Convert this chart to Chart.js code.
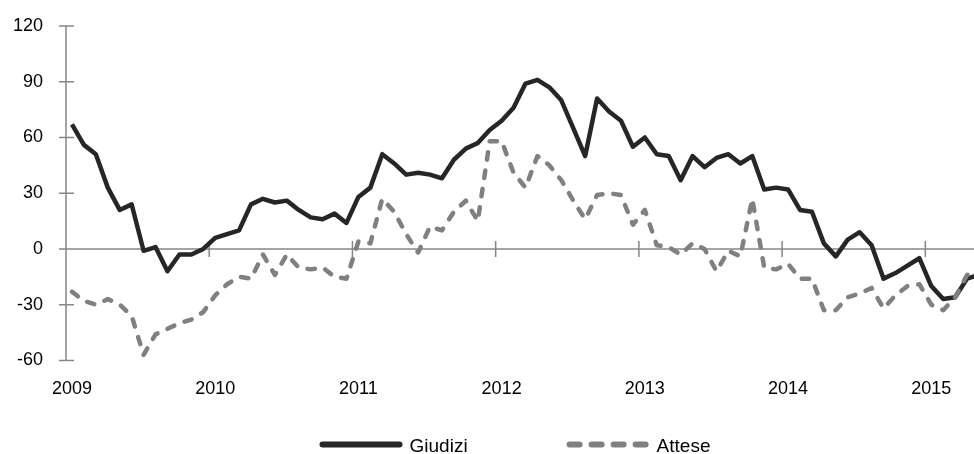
<!DOCTYPE html>
<html>
<head>
<meta charset="utf-8">
<script src="https://cdn.jsdelivr.net/npm/chart.js@4/dist/chart.umd.min.js"></script>
<style>
  html, body { margin: 0; padding: 0; background: #fff; overflow: hidden; }
  #wrap { position: relative; width: 986px; height: 454px; }
</style>
</head>
<body>
<div id="wrap"><canvas id="chart"></canvas></div>
<script>
// anni sull'asse x (gennaio di ogni anno)
const years = ["2009", "2010", "2011", "2012", "2013", "2014", "2015"];
const monthsInLastYear = 5;

// serie mensili, gen 2009 - mag 2015
const giudizi = [
  67, 56, 51, 33, 21, 24, -1, 1, -12, -3, -3, 0,
  6, 8, 10, 24, 27, 25, 26, 21, 17, 16, 19, 14,
  28, 33, 51, 46, 40, 41, 40, 38, 48, 54, 57, 64,
  69, 76, 89, 91, 87, 80, 65, 50, 81, 74, 69, 55,
  60, 51, 50, 37, 50, 44, 49, 51, 46, 50, 32, 33,
  32, 21, 20, 3, -4, 5, 9, 2, -16, -13, -9, -5,
  -20, -27, -26, -16, -14
];
const attese = [
  -23, -28, -30, -27, -30, -36, -57, -46, -43, -40, -38, -34,
  -25, -19, -15, -16, -3, -14, -3, -10, -11, -10, -15, -16,
  4, 3, 27, 20, 8, -2, 12, 10, 20, 26, 15, 58,
  58, 41, 33, 50, 45, 37, 26, 16, 29, 30, 29, 13,
  21, 2, 1, -3, 3, 0, -12, -1, -4, 27, -10, -11,
  -8, -16, -16, -33, -33, -26, -24, -21, -32, -25, -20, -19,
  -30, -33, -26, -14, -13
];
const seriesNames = ["Giudizi", "Attese"];

const yMin = -60, yMax = 120, yStep = 30;

const colorGiudizi = "#262626";
const colorAttese = "#808080";
const axisColor = "#868686";
const fontFamily = "'Liberation Sans', Arial, sans-serif";

// etichette delle categorie: l'anno solo a gennaio
const labels = [];
years.forEach((yr, i) => {
  const n = i === years.length - 1 ? monthsInLastYear : 12;
  for (let m = 0; m < n; m++) labels.push(m === 0 ? yr : "");
});

// niente margini extra calcolati dalle etichette
function noPadding(scale) {
  scale.paddingLeft = 0;
  scale.paddingRight = 0;
  scale.paddingTop = 0;
  scale.paddingBottom = 0;
}

// assi "incrociati" come nell'originale + legenda
const crossAxes = {
  id: "crossAxes",
  beforeDatasetsDraw(chart) {
    const { ctx, chartArea, scales: { x, y } } = chart;
    const y0 = y.getPixelForValue(0);
    ctx.save();
    ctx.strokeStyle = axisColor;
    ctx.lineWidth = 1.5;
    ctx.beginPath();
    ctx.moveTo(chartArea.left, y.getPixelForValue(yMax));
    ctx.lineTo(chartArea.left, y.getPixelForValue(yMin));
    y.ticks.forEach(t => {
      const py = y.getPixelForValue(t.value);
      ctx.moveTo(chartArea.left - 7, py);
      ctx.lineTo(chartArea.left + 8, py);
    });
    ctx.moveTo(chartArea.left, y0);
    ctx.lineTo(chartArea.right, y0);
    labels.forEach((l, i) => {
      if (l && i > 0) {
        const px = (x.getPixelForValue(i - 1) + x.getPixelForValue(i)) / 2;
        ctx.moveTo(px, y0 - 8);
        ctx.lineTo(px, y0 + 8);
      }
    });
    ctx.stroke();
    ctx.restore();
  },
  afterDraw(chart) {
    const ctx = chart.ctx;
    const items = [
      { text: seriesNames[0], color: colorGiudizi, dash: [] },
      { text: seriesNames[1], color: colorAttese, dash: [10, 12] }
    ];
    const lineLen = 83, textGap = 7, itemGap = 99, ly = 444.5;
    ctx.save();
    ctx.font = "19px " + fontFamily;
    const widths = items.map(it => ctx.measureText(it.text).width);
    const total = items.length * (lineLen + textGap) + widths.reduce((a, b) => a + b, 0) + itemGap * (items.length - 1);
    let cx = 515 - total / 2;
    items.forEach((it, i) => {
      ctx.strokeStyle = it.color;
      ctx.lineWidth = 6;
      ctx.lineCap = "round";
      ctx.setLineDash(it.dash);
      ctx.beginPath();
      ctx.moveTo(cx + 3, ly);
      ctx.lineTo(cx + lineLen - 3, ly);
      ctx.stroke();
      ctx.setLineDash([]);
      ctx.fillStyle = "#000";
      ctx.textBaseline = "middle";
      ctx.fillText(it.text, cx + lineLen + textGap, ly + 2);
      cx += lineLen + textGap + widths[i] + itemGap;
    });
    ctx.restore();
  }
};

const ctx = document.getElementById("chart").getContext("2d");
new Chart(ctx, {
  type: "line",
  data: {
    labels: labels,
    datasets: [
      {
        label: seriesNames[0],
        data: giudizi,
        borderColor: colorGiudizi,
        borderWidth: 4.5,
        borderJoinStyle: "round",
        pointRadius: 0,
        tension: 0,
        order: 1
      },
      {
        label: seriesNames[1],
        data: attese,
        borderColor: colorAttese,
        borderWidth: 4.5,
        borderDash: [7.5, 11],
        borderCapStyle: "round",
        borderJoinStyle: "round",
        pointRadius: 0,
        tension: 0,
        order: 0
      }
    ]
  },
  options: {
    responsive: true,
    maintainAspectRatio: false,
    animation: false,
    layout: { padding: { left: 0, top: 26, right: 1, bottom: 36 } },
    plugins: {
      legend: { display: false },
      tooltip: { enabled: false }
    },
    scales: {
      x: {
        type: "category",
        offset: true,
        grid: { display: false, drawTicks: false },
        border: { display: false },
        afterFit: scale => { noPadding(scale); },
        ticks: {
          autoSkip: false,
          maxRotation: 0,
          padding: 18,
          color: "#000",
          font: { family: fontFamily, size: 18 },
          callback: (v, i) => labels[i]
        }
      },
      y: {
        min: yMin,
        max: yMax,
        grid: { display: false, drawTicks: false },
        border: { display: false },
        afterFit: scale => { scale.width = 66; noPadding(scale); },
        ticks: {
          stepSize: yStep,
          padding: 23,
          color: "#000",
          font: { family: fontFamily, size: 18 }
        }
      }
    }
  },
  plugins: [crossAxes]
});
</script>
</body>
</html>
